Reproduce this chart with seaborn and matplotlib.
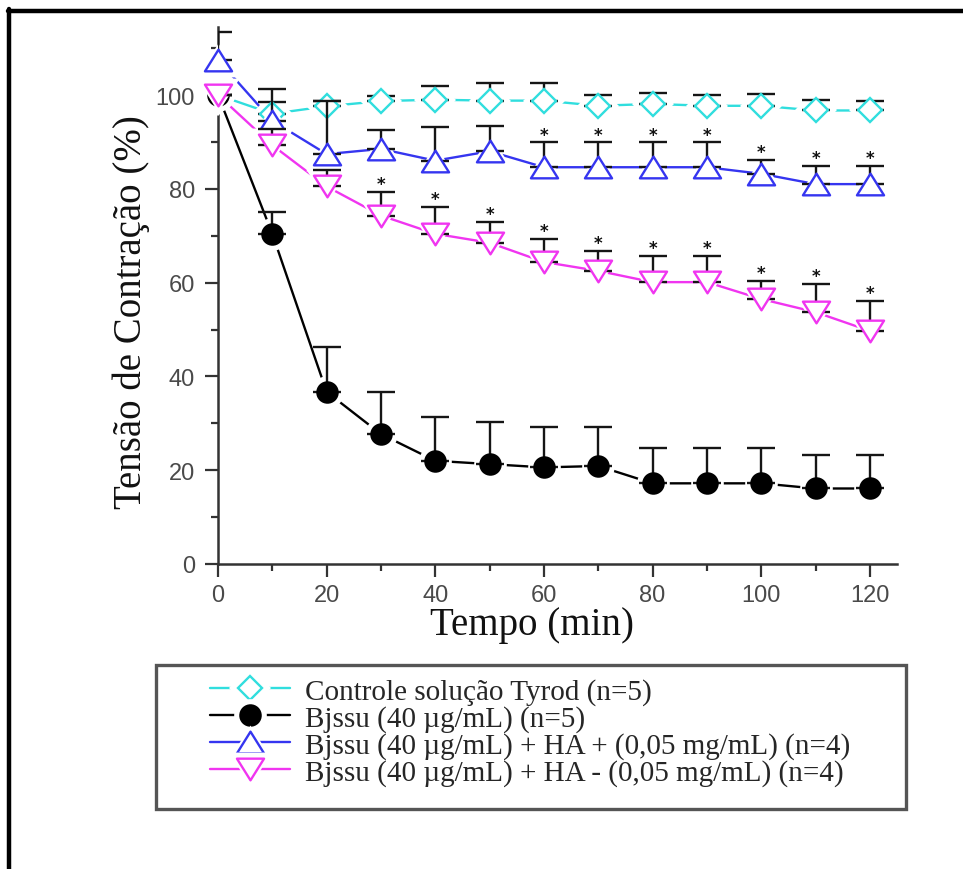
import numpy as np
import pandas as pd
import matplotlib
matplotlib.use("Agg")
import matplotlib.pyplot as plt
import seaborn as sns
from matplotlib.lines import Line2D
from matplotlib.path import Path
from matplotlib.ticker import MultipleLocator
from matplotlib.legend_handler import HandlerTuple

# ---------------- data ----------------
time_min = [0, 10, 20, 30, 40, 50, 60, 70, 80, 90, 100, 110, 120]

ctrl = [100, 96.0, 97.6, 98.7, 99.0, 98.8, 98.8, 97.7, 98.1, 97.7, 97.7, 96.7, 96.7]
ctrl_err = [0, 2.5, 1.2, 1.1, 3.0, 3.8, 3.8, 2.2, 2.4, 2.3, 2.6, 2.3, 2.1]

bjssu = [100, 70.4, 36.7, 27.7, 22.0, 21.3, 20.6, 20.9, 17.2, 17.2, 17.2, 16.1, 16.1]
bjssu_err = [0, 4.7, 9.5, 9.0, 9.3, 8.9, 8.7, 8.4, 7.5, 7.5, 7.5, 7.2, 7.2]

ha_plus = [107.5, 94.5, 87.4, 88.5, 86.0, 88.0, 84.6, 84.6, 84.6, 84.6, 83.2, 81.0, 81.0]
ha_plus_err = [6.0, 6.8, 11.4, 4.0, 7.2, 5.4, 5.3, 5.3, 5.3, 5.3, 3.0, 3.9, 3.9]

ha_minus = [100, 89.3, 80.5, 74.3, 70.4, 68.5, 64.4, 62.5, 60.1, 60.1, 56.5, 53.7, 49.7]
ha_minus_err = [0, 3.5, 3.5, 5.0, 5.7, 4.5, 4.9, 4.3, 5.6, 5.6, 3.9, 6.0, 6.4]

sig_plus_times = [60, 70, 80, 90, 100, 110, 120]
sig_minus_times = [30, 40, 50, 60, 70, 80, 90, 100, 110, 120]

labels = [
    "Controle solução Tyrod (n=5)",
    "Bjssu (40 µg/mL) (n=5)",
    "Bjssu (40 µg/mL) + HA + (0,05 mg/mL) (n=4)",
    "Bjssu (40 µg/mL) + HA - (0,05 mg/mL) (n=4)",
]
values = [ctrl, bjssu, ha_plus, ha_minus]
errors = [ctrl_err, bjssu_err, ha_plus_err, ha_minus_err]
colors = ["#30dede", "#000000", "#3535f0", "#f035f0"]

x_label = "Tempo (min)"
y_label = "Tensão de Contração (%)"

# ---------------- style ----------------
sns.set_style("ticks")
plt.rcParams["font.family"] = ["Liberation Sans", "DejaVu Sans"]

tri_up = Path([(-1, -0.8), (1, -0.8), (0, 0.8), (-1, -0.8)], closed=True)
tri_dn = Path([(-1, 0.8), (1, 0.8), (0, -0.8), (-1, 0.8)], closed=True)
markers = ["D", "o", tri_up, tri_dn]
msizes = [12.5, 14.5, 19.5, 19.5]
halo_extra = [9, 9, 11, 11]
faces = ["white", "black", "white", "white"]

W, H = 963, 870
fig = plt.figure(figsize=(W / 100, H / 100), dpi=100)
fig.patch.set_facecolor("white")

ax_left, ax_right, ax_bottom_px, ax_top_px = 218, 897, 565, 28
ax = fig.add_axes([ax_left / W, (H - ax_bottom_px) / H,
                   (ax_right - ax_left) / W, (ax_bottom_px - ax_top_px) / H])

df = pd.DataFrame({
    "Tempo": np.tile(time_min, len(labels)),
    "Tensao": np.concatenate(values),
    "Serie": np.repeat(labels, len(time_min)),
})
sns.lineplot(data=df, x="Tempo", y="Tensao", hue="Serie", hue_order=labels,
             palette=dict(zip(labels, colors)), estimator=None, sort=False,
             legend=False, lw=1.7, ax=ax, zorder=2)

t = np.array(time_min, dtype=float)
for i, (v, e, c, m, ms, hx, fc) in enumerate(zip(values, errors, colors, markers,
                                                 msizes, halo_extra, faces)):
    z = 3 + i * 0.2
    v = np.array(v)
    ax.plot(t, v, ls="none", marker=m, ms=ms + hx, mfc="white", mec="white",
            mew=0, zorder=z, clip_on=False)
    ax.errorbar(t, v, yerr=[np.zeros_like(v), np.array(e)], fmt="none",
                ecolor="#151515", elinewidth=1.7, capsize=10, capthick=1.7,
                zorder=z + 0.05)
    ax.plot(t, v, ls="none", marker=m, ms=ms, mfc=fc, mec=c, mew=1.7,
            zorder=z + 0.1, clip_on=False)

# significance asterisks above error caps
for times, v, e in [(sig_plus_times, ha_plus, ha_plus_err),
                    (sig_minus_times, ha_minus, ha_minus_err)]:
    for tt in times:
        k = time_min.index(tt)
        ax.text(tt, v[k] + e[k] + 0.6, "*", ha="center", va="baseline",
                fontsize=12, fontweight="bold", color="#111", zorder=6,
                family=["DejaVu Sans"])

ax.set_xlim(0, 125)
ax.set_ylim(0, 114.5)
ax.xaxis.set_minor_locator(MultipleLocator(10))
ax.yaxis.set_minor_locator(MultipleLocator(10))
ax.set_xticks([0, 20, 40, 60, 80, 100, 120])
ax.set_yticks([0, 20, 40, 60, 80, 100])

for s in ["top", "right"]:
    ax.spines[s].set_visible(False)
for s in ["left", "bottom"]:
    ax.spines[s].set_linewidth(1.8)
    ax.spines[s].set_color("#333333")

ax.tick_params(which="major", direction="out", length=9.5, width=1.6,
               color="#333333", labelsize=17, labelcolor="#4a4a4a")
ax.tick_params(axis="y", which="major", pad=7)
ax.tick_params(axis="x", which="major", pad=5)
ax.tick_params(which="minor", direction="out", length=5, width=1.6, color="#333333")

ax.set_xlabel(x_label, fontsize=28, family=["Liberation Serif"], color="#111")
ax.set_ylabel(y_label, fontsize=28, family=["Liberation Serif"], color="#111")
ax.xaxis.set_label_coords((532 - ax_left) / (ax_right - ax_left),
                          -(607 - ax_bottom_px) / (ax_bottom_px - ax_top_px))
ax.yaxis.set_label_coords(-(ax_left - 150) / (ax_right - ax_left),
                          (ax_bottom_px - 312) / (ax_bottom_px - ax_top_px))

# ---------------- legend ----------------
handles = []
for c, m, ms, hx, fc in zip(colors, markers, msizes, halo_extra, faces):
    handles.append((
        Line2D([], [], color=c, lw=1.7),
        Line2D([], [], ls="none", marker=m, ms=ms + hx, mfc="white", mec="white", mew=0),
        Line2D([], [], ls="none", marker=m, ms=ms, mfc=fc, mec=c, mew=1.7),
    ))
leg = fig.legend(handles, labels, loc="upper left",
                 bbox_to_anchor=(210 / W, 1 - 679 / H), borderaxespad=0,
                 frameon=False, prop={"family": "Liberation Serif", "size": 21},
                 labelspacing=0.0, handlelength=2.75, handletextpad=0.5,
                 borderpad=0, handler_map={tuple: HandlerTuple(ndivide=1)})

# legend box
fig.add_artist(plt.Rectangle((156 / W, 1 - 810 / H), (906 - 156) / W, (810 - 666) / H,
                             transform=fig.transFigure, fill=False,
                             edgecolor="#555555", lw=2.4, zorder=10))
# outer frame (top and left edges)
fig.add_artist(Line2D([8 / W, 1], [1 - 12 / H, 1 - 12 / H], transform=fig.transFigure,
                      color="black", lw=3.2, zorder=10))
fig.add_artist(Line2D([9 / W, 9 / W], [0, 1 - 10 / H], transform=fig.transFigure,
                      color="black", lw=3.2, zorder=10))

fig.savefig("out.png", dpi=100, facecolor="white")
